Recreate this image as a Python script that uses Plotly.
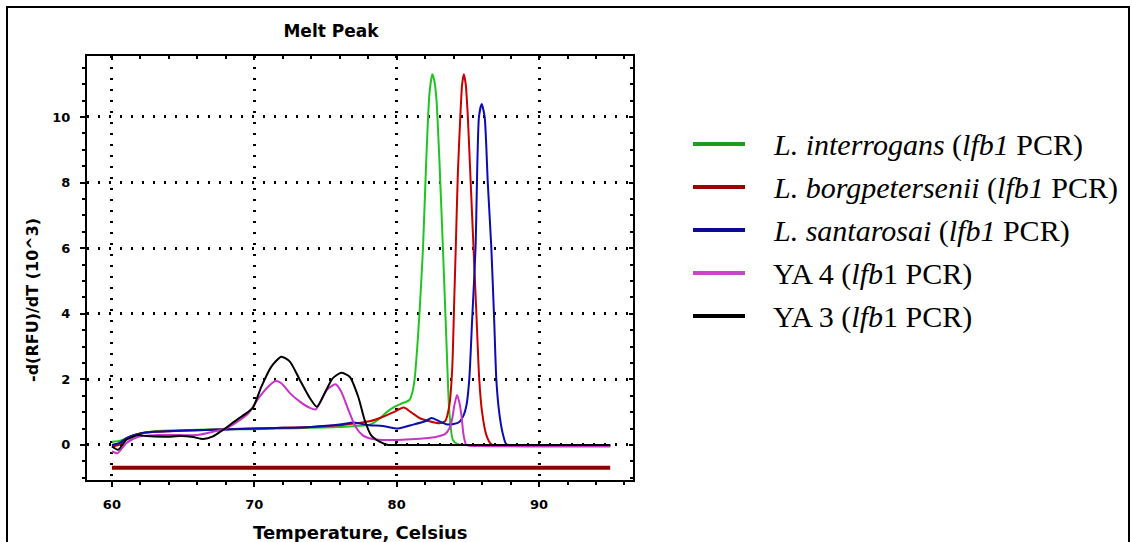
import plotly.graph_objects as go

# ---------------- data ----------------
temp_interrogans = [60, 60.5, 61, 61.5, 62, 63, 64, 65, 66, 68, 70, 72, 74, 76, 77, 78.1, 78.8, 79.3, 79.8,
                    80.4, 80.9, 81.1, 81.26, 81.45, 81.6, 81.85, 82.08, 82.3, 82.5, 82.65, 82.8, 83.0, 83.25,
                    83.5, 83.7, 83.95, 84.3, 84.8, 86, 88, 90, 92, 95]
val_interrogans = [0.1, 0.12, 0.2, 0.3, 0.35, 0.42, 0.44, 0.45, 0.46, 0.48, 0.48, 0.5, 0.52, 0.55, 0.57, 0.62,
                   0.8, 1.0, 1.15, 1.27, 1.37, 1.6, 2.0, 3.0, 4.0, 6.0, 8.7, 10.7, 11.3, 11.1, 10.5, 8.7, 6.0,
                   3.1, 1.0, 0.15, 0.02, 0.0, 0.0, 0.0, 0.0, -0.01, -0.02]

temp_borg = [60, 60.5, 61, 62, 63, 64, 66, 68, 70, 72, 74, 76, 77, 78.1, 79.0, 79.8, 80.5, 81.0, 81.6, 82.3,
             83.0, 83.4, 83.7, 83.9, 84.05, 84.15, 84.3, 84.47, 84.6, 84.72, 84.85, 85.0, 85.2, 85.4, 85.6,
             85.8, 86.0, 86.3, 86.65, 87.5, 89, 91, 93, 95]
val_borg = [-0.05, 0.0, 0.2, 0.35, 0.4, 0.42, 0.45, 0.48, 0.5, 0.52, 0.55, 0.6, 0.65, 0.72, 0.85, 1.0, 1.14,
            1.0, 0.82, 0.72, 0.66, 0.72, 1.2, 2.3, 4.5, 6.0, 8.3, 10.0, 11.0, 11.3, 11.0, 10.0, 8.0, 6.0, 4.0,
            2.0, 1.0, 0.3, 0.02, 0.0, 0.0, 0.0, -0.01, -0.02]

temp_santarosai = [60, 60.5, 61, 62, 63, 64, 66, 68, 70, 72, 74, 76, 77, 78.1, 79, 80.1, 81, 82, 82.45, 83,
                   83.5, 84, 84.4, 84.7, 84.9, 85.1, 85.3, 85.54, 85.78, 85.97, 86.18, 86.4, 86.65, 86.85,
                   87.0, 87.2, 87.45, 87.7, 88.5, 90, 92, 95]
val_santarosai = [0.0, 0.05, 0.2, 0.35, 0.4, 0.42, 0.45, 0.47, 0.5, 0.52, 0.55, 0.62, 0.68, 0.6, 0.58, 0.5,
                  0.6, 0.72, 0.82, 0.72, 0.63, 0.64, 0.7, 0.9, 1.2, 2.0, 3.8, 6.0, 10.0, 10.4, 10.0, 8.0, 6.0,
                  3.8, 2.0, 1.0, 0.35, 0.02, 0.0, 0.0, -0.01, -0.02]

temp_ya4 = [60, 60.4, 61.0, 61.8, 63.2, 64.8, 66.0, 67.1, 68.0, 69.0, 69.6, 70.3, 71.1, 71.5, 71.9, 72.5,
            73.2, 73.9, 74.3, 74.6, 75.1, 75.7, 76.1, 76.6, 77.1, 77.6, 78.3, 79.0, 80, 81, 82, 82.8, 83.4,
            83.7, 83.9, 84.05, 84.24, 84.4, 84.55, 84.7, 84.9, 86, 88, 90, 92, 95]
val_ya4 = [-0.2, -0.25, 0.05, 0.24, 0.3, 0.3, 0.3, 0.4, 0.5, 0.76, 0.97, 1.43, 1.83, 1.95, 1.88, 1.58, 1.32,
           1.13, 1.08, 1.28, 1.68, 1.85, 1.63, 1.08, 0.56, 0.3, 0.18, 0.15, 0.15, 0.17, 0.2, 0.25, 0.33, 0.5,
           0.8, 1.2, 1.52, 1.3, 0.9, 0.3, 0.0, -0.03, -0.04, -0.05, -0.05, -0.05]

temp_ya3 = [60, 60.44, 61.0, 61.85, 62.4, 63.8, 64.8, 65.7, 66.4, 67.1, 67.8, 68.6, 69.45, 69.9, 70.5, 71.2,
            71.9, 72.5, 73.2, 73.9, 74.4, 74.95, 75.5, 76.1, 76.7, 77.3, 77.75, 78.2, 78.8, 79.4, 80, 85, 90, 95]
val_ya3 = [-0.05, -0.15, 0.15, 0.3, 0.27, 0.25, 0.27, 0.24, 0.18, 0.26, 0.46, 0.71, 0.97, 1.13, 1.78, 2.39,
           2.69, 2.54, 1.98, 1.43, 1.16, 1.58, 2.03, 2.2, 2.08, 1.47, 0.76, 0.3, 0.1, 0.0, 0.0, 0.0, 0.0, 0.0]

threshold_temp = [60, 95]
threshold_val = [-0.7, -0.7]

x_ticks = [60, 70, 80, 90]
y_ticks = [0, 2, 4, 6, 8, 10]

legend_labels = [
    "<i>L. interrogans</i> (<i>lfb1</i> PCR)",
    "<i>L. borgpetersenii</i> (<i>lfb1</i> PCR)",
    "<i>L. santarosai</i> (<i>lfb1</i> PCR)",
    "YA 4 (<i>lfb</i>1 PCR)",
    "YA 3 (<i>lfb</i>1 PCR)",
]

# ---------------- layout geometry (pixels) ----------------
W, H = 1132, 542
PL, PR, PT, PB = 87, 633, 56, 480
X_RANGE = [58.25, 96.6]
Y_RANGE = [-1.07, 11.86]
SANS = "DejaVu Sans, Verdana, sans-serif"
SERIF = "Liberation Serif, Times New Roman, serif"


def px(xp):
    return (xp - PL) / (PR - PL)


def py(yp):
    return (PB - yp) / (PB - PT)


series = [
    (temp_interrogans, val_interrogans, "#22c422", "#1e9e1e"),
    (temp_borg, val_borg, "#c80000", "#a00000"),
    (temp_santarosai, val_santarosai, "#0c0cb0", "#0a0a96"),
    (temp_ya4, val_ya4, "#c833c8", "#cc44cc"),
    (temp_ya3, val_ya3, "#000000", "#000000"),
]

fig = go.Figure()

# threshold line drawn on the overlay axes (which carry the inward ticks of top/right borders)
fig.add_trace(go.Scatter(x=threshold_temp, y=threshold_val, mode="lines", xaxis="x2", yaxis="y2",
                         line=dict(color="#8e0000", width=4), showlegend=False, name="threshold"))

for (tx, ty, col, _), lab in zip(series, legend_labels):
    fig.add_trace(go.Scatter(x=tx, y=ty, mode="lines", name=lab,
                             line=dict(color=col, width=2, shape="spline", smoothing=0.6),
                             showlegend=False))

shapes = []
annotations = []

# outer frame
shapes.append(dict(type="rect", xref="paper", yref="paper",
                   x0=px(7), x1=px(1129), y0=py(7), y1=py(580),
                   line=dict(color="black", width=2), fillcolor="rgba(0,0,0,0)", layer="above"))

# legend (manual, so sample lines match the reference length)
row_y = [144, 187, 230, 273, 316]
for (tx, ty, col, lcol), lab, ry in zip(series, legend_labels, row_y):
    shapes.append(dict(type="line", xref="paper", yref="paper",
                       x0=px(693), x1=px(745), y0=py(ry), y1=py(ry),
                       line=dict(color=lcol, width=4)))
    annotations.append(dict(text=lab, xref="paper", yref="paper", x=px(771), y=py(ry + 1),
                            xanchor="left", yanchor="middle", showarrow=False,
                            font=dict(family=SERIF, size=30, color="black")))

# axis titles
annotations.append(dict(text="<b>Temperature, Celsius</b>", xref="paper", yref="paper",
                        x=px(360), y=py(532), xanchor="center", yanchor="middle", showarrow=False,
                        font=dict(family=SANS, size=18, color="black")))
annotations.append(dict(text="<b>-d(RFU)/dT (10^3)</b>", xref="paper", yref="paper",
                        x=px(32), y=py(300), xanchor="center", yanchor="middle", showarrow=False,
                        textangle=-90,
                        font=dict(family=SANS, size=16, color="black")))

axis_common = dict(
    showline=True, linecolor="black", linewidth=2, mirror=True,
    ticks="outside", ticklen=5, tickwidth=2, tickcolor="black",
    showgrid=True, gridcolor="black", gridwidth=2.5, griddash="2px,9px",
    zeroline=False,
    tickfont=dict(family=SANS, size=13, color="black", weight="bold"),
)

overlay_common = dict(
    showline=False, showgrid=False, zeroline=False, showticklabels=False,
    ticks="inside", ticklen=4, tickwidth=2, tickcolor="black",
)

fig.update_layout(
    width=W, height=H,
    margin=dict(l=PL, r=W - PR, t=PT, b=H - PB, pad=0),
    paper_bgcolor="white", plot_bgcolor="white",
    showlegend=False,
    title=dict(text="<b>Melt Peak</b>", x=331 / W, xref="container", xanchor="center",
               y=1 - 31 / H, yref="container", yanchor="middle",
               font=dict(family=SANS, size=17, color="black")),
    xaxis=dict(range=X_RANGE, tickvals=x_ticks, ticklabelstandoff=6,
               minor=dict(dtick=2, tick0=60, ticks="outside", ticklen=3, tickwidth=2,
                          tickcolor="black", showgrid=False),
               **axis_common),
    yaxis=dict(range=Y_RANGE, tickvals=y_ticks, ticklabelstandoff=7,
               minor=dict(dtick=0.5, tick0=0, ticks="outside", ticklen=3, tickwidth=2,
                          tickcolor="black", showgrid=False),
               **axis_common),
    xaxis2=dict(range=X_RANGE, overlaying="x", side="top", anchor="y2", tickvals=x_ticks,
                minor=dict(dtick=2, tick0=60, ticks="inside", ticklen=3, tickwidth=2,
                           tickcolor="black", showgrid=False),
                **overlay_common),
    yaxis2=dict(range=Y_RANGE, overlaying="y", side="right", anchor="x2", tickvals=y_ticks,
                minor=dict(dtick=0.5, tick0=0, ticks="inside", ticklen=3, tickwidth=2,
                           tickcolor="black", showgrid=False),
                **overlay_common),
    shapes=shapes,
    annotations=annotations,
)

fig.write_html("out.html")
